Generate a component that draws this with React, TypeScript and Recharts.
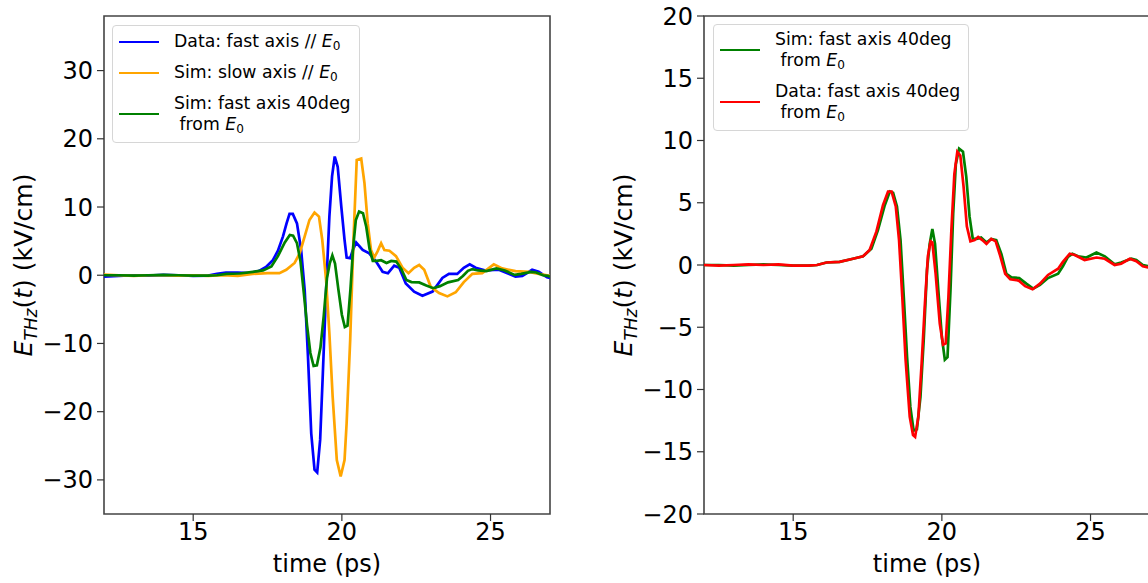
import React from 'react';
import { LineChart, Line, XAxis, YAxis, ReferenceArea } from 'recharts';

// time (ps) / field (kV/cm) samples
const dataFastTime = [12, 12.5, 13, 13.5, 14, 14.5, 15, 15.5, 15.8, 16.1, 16.5, 16.9, 17.2, 17.45, 17.68, 17.85, 18.02, 18.14, 18.24, 18.35, 18.49, 18.63, 18.75, 18.86, 18.97, 19.08, 19.17, 19.27, 19.36, 19.47, 19.58, 19.67, 19.76, 19.86, 19.98, 20.09, 20.16, 20.28, 20.37, 20.48, 20.7, 20.92, 21.15, 21.37, 21.55, 21.76, 21.93, 22.15, 22.43, 22.71, 23.05, 23.38, 23.6, 23.88, 24.1, 24.3, 24.5, 24.83, 25.28, 25.61, 25.84, 26.07, 26.4, 26.62, 26.9, 27];
const dataFastField = [-0.2, -0.1, 0, -0.05, 0.05, 0, -0.1, -0.05, 0.2, 0.4, 0.4, 0.3, 0.6, 1.2, 2.2, 3.6, 5.7, 7.6, 9.0, 9.0, 7.6, 3.7, -2.2, -11.9, -23.2, -28.5, -28.9, -24.1, -14.4, -2.2, 8.6, 14.5, 17.4, 15.9, 10.1, 5.2, 2.6, 2.5, 3.7, 4.8, 3.7, 3.2, 2.0, 0.5, 0.3, 1.4, 1.1, -1.2, -2.4, -3.0, -2.4, -0.4, 0.2, 0.2, 1.1, 1.6, 1.1, 0.7, 0.8, 0.2, -0.2, -0.1, 0.8, 0.5, -0.3, -0.4];

const simSlowTime = [12, 12.5, 13, 13.5, 14, 14.5, 15, 15.5, 16, 16.5, 17, 17.5, 17.9, 18.13, 18.41, 18.58, 18.75, 18.91, 19.08, 19.23, 19.34, 19.47, 19.58, 19.69, 19.83, 19.96, 20.09, 20.16, 20.28, 20.39, 20.5, 20.65, 20.76, 20.87, 20.98, 21.09, 21.2, 21.32, 21.43, 21.6, 21.82, 22.04, 22.24, 22.43, 22.6, 22.77, 22.99, 23.27, 23.55, 23.83, 24.1, 24.39, 24.72, 25.11, 25.39, 25.84, 26.29, 26.62, 26.9, 27];
const simSlowField = [0.1, 0, -0.1, 0, 0, -0.05, 0, -0.1, 0, -0.1, 0.2, 0.3, 0.3, 0.8, 1.8, 3.2, 5.7, 8.1, 9.2, 8.6, 5.2, -0.7, -8.5, -17.8, -27.1, -29.5, -27.1, -21.7, -9.5, 5.2, 16.9, 17.1, 13.5, 7.6, 3.7, 2.6, 3.5, 4.7, 3.7, 3.6, 2.8, 1.1, 0.3, 1.1, 1.5, 0.8, -1.7, -2.6, -3.1, -2.5, -1.0, 0.2, 0.3, 1.6, 1.0, 0.6, 0.5, 0.2, 0, -0.1];

const sim40Time = [12, 12.5, 13, 13.5, 14, 14.5, 15, 15.5, 15.8, 16.12, 16.56, 17.01, 17.35, 17.63, 17.85, 18.08, 18.25, 18.36, 18.49, 18.61, 18.72, 18.83, 18.94, 19.05, 19.16, 19.28, 19.39, 19.5, 19.59, 19.68, 19.77, 19.88, 20.0, 20.1, 20.19, 20.29, 20.38, 20.47, 20.58, 20.71, 20.82, 20.93, 21.04, 21.17, 21.32, 21.5, 21.66, 21.83, 22.0, 22.17, 22.34, 22.6, 22.84, 23.07, 23.3, 23.57, 23.91, 24.07, 24.24, 24.39, 24.58, 24.86, 25.2, 25.48, 25.81, 26.03, 26.37, 26.54, 26.76, 26.93, 27];
const sim40Field = [0, 0, -0.05, 0, 0.05, 0, -0.05, -0.05, 0, 0.2, 0.25, 0.5, 0.7, 1.3, 2.8, 4.8, 5.9, 5.8, 4.7, 2.0, -2.6, -7.4, -11.4, -13.3, -13.2, -10.6, -6.0, -0.4, 1.7, 2.9, 1.7, -2.0, -5.8, -7.6, -7.4, -2.0, 4.1, 8.1, 9.35, 9.1, 7.1, 3.9, 2.1, 2.1, 2.2, 1.8, 2.1, 2.0, 0.9, -0.7, -1.0, -1.05, -1.5, -1.9, -1.6, -1.05, -0.7, -0.1, 0.65, 0.9, 0.7, 0.6, 1.0, 0.7, 0.05, 0.2, 0.5, 0.4, 0, -0.1, -0.2];

const data40Time = [12, 12.5, 13, 13.5, 14, 14.5, 15, 15.5, 15.8, 16.12, 16.56, 17.01, 17.35, 17.57, 17.8, 18.02, 18.19, 18.31, 18.45, 18.56, 18.67, 18.78, 18.92, 19.03, 19.1, 19.21, 19.32, 19.43, 19.53, 19.62, 19.68, 19.79, 19.93, 20.04, 20.13, 20.22, 20.32, 20.42, 20.52, 20.62, 20.73, 20.84, 20.96, 21.1, 21.22, 21.36, 21.5, 21.66, 21.81, 21.96, 22.13, 22.3, 22.58, 22.8, 23.05, 23.3, 23.57, 23.91, 24.07, 24.3, 24.47, 24.8, 25.2, 25.48, 25.81, 26.03, 26.32, 26.54, 26.76, 26.93, 27];
const data40Field = [0, -0.05, 0, 0.05, 0, 0.05, -0.05, -0.05, 0, 0.2, 0.25, 0.5, 0.7, 1.2, 2.7, 4.8, 5.9, 5.9, 4.7, 2.0, -2.6, -7.6, -12.2, -13.65, -13.8, -12.2, -7.9, -3.1, 0.7, 1.9, 1.8, -0.7, -4.7, -6.4, -6.3, -2.6, 2.8, 7.3, 9.1, 8.8, 6.3, 3.1, 1.9, 2.0, 2.25, 2.0, 1.7, 2.1, 1.9, 0.75, -0.7, -1.15, -1.25, -1.7, -1.95, -1.5, -0.8, -0.3, 0.25, 0.9, 0.8, 0.4, 0.6, 0.5, 0, 0.1, 0.5, 0.3, -0.1, -0.2, -0.2];

const xTicks = [15, 20, 25];
const leftYTicks = [-30, -20, -10, 0, 10, 20, 30];
const rightYTicks = [-20, -15, -10, -5, 0, 5, 10, 15, 20];

const zip = (t: number[], v: number[]) => t.map((x, i) => ({ t: x, v: v[i] }));

const FONT = 'DejaVu Sans';
const fmt = (v: number) => (v < 0 ? `\u2212${Math.abs(v)}` : `${v}`);

const YLabel = (props: any) => {
  const vb = props.viewBox || { x: 0, y: 16, width: 104, height: 498 };
  const cx = vb.x + 32;
  const cy = vb.y + vb.height / 2;
  return (
    <text x={cx} y={cy} transform={`rotate(-90 ${cx} ${cy})`} textAnchor="middle" fontFamily={FONT} fontSize={25} fill="#000">
      <tspan fontStyle="italic">E</tspan>
      <tspan fontStyle="italic" fontSize={17} dy={5}>THz</tspan>
      <tspan dy={-5}>(</tspan>
      <tspan fontStyle="italic">t</tspan>
      <tspan>) (kV/cm)</tspan>
    </text>
  );
};

const XLabel = (props: any) => {
  const vb = props.viewBox || { x: 104, y: 514, width: 446, height: 69 };
  return (
    <text x={vb.x + vb.width / 2} y={vb.y + 58} textAnchor="middle" fontFamily={FONT} fontSize={24} fill="#000">
      time (ps)
    </text>
  );
};

const E0 = () => (
  <>
    <i>E</i>
    <sub style={{ fontSize: '0.7em', verticalAlign: '-0.25em', lineHeight: 0 }}>0</sub>
  </>
);

type Item = { color: string; label: React.ReactNode };

const LegendBox = ({ items, left, top, gap, padTop }: { items: Item[]; left: number; top: number; gap: number; padTop: number }) => (
  <div
    style={{
      position: 'absolute',
      left,
      top,
      border: '1px solid #d6d6d6',
      borderRadius: 4,
      background: 'rgba(255,255,255,0.85)',
      padding: `${padTop}px 8px 7px 6px`,
      fontFamily: FONT,
      fontSize: 17.3,
      lineHeight: '21px',
      color: '#000',
    }}
  >
    {items.map((it, i) => (
      <div key={i} style={{ display: 'flex', alignItems: 'center', marginTop: i ? gap : 0 }}>
        <div style={{ width: 40, borderTop: `2.5px solid ${it.color}`, marginRight: 15 }} />
        <div style={{ whiteSpace: 'pre' }}>{it.label}</div>
      </div>
    ))}
  </div>
);

const Panel = ({ yDomain, yTicks, children }: { yDomain: [number, number]; yTicks: number[]; children: React.ReactNode }) => (
  <LineChart width={600} height={583} margin={{ top: 16, right: 50, bottom: 0, left: 0 }}>
    <XAxis
      type="number"
      dataKey="t"
      domain={[12, 27]}
      ticks={xTicks}
      allowDataOverflow
      height={69}
      axisLine={false}
      tickSize={7}
      tickMargin={2}
      tickLine={{ stroke: '#333', strokeWidth: 1.2 }}
      tick={{ fill: '#000', fontSize: 24, fontFamily: FONT }}
      label={{ content: XLabel }}
    />
    <YAxis
      type="number"
      domain={yDomain}
      ticks={yTicks}
      allowDataOverflow
      width={104}
      axisLine={false}
      tickSize={7}
      tickMargin={4}
      tickLine={{ stroke: '#333', strokeWidth: 1.2 }}
      tick={{ fill: '#000', fontSize: 24, fontFamily: FONT }}
      tickFormatter={fmt}
      label={{ content: YLabel }}
    />
    {children}
    <ReferenceArea x1={12} x2={27} y1={yDomain[0]} y2={yDomain[1]} fill="none" stroke="#444" strokeWidth={1.6} ifOverflow="visible" />
  </LineChart>
);

const line = (data: { t: number; v: number }[], color: string, name: string) => (
  <Line
    key={name}
    name={name}
    data={data}
    dataKey="v"
    type="linear"
    stroke={color}
    strokeWidth={2.7}
    dot={false}
    activeDot={false}
    isAnimationActive={false}
  />
);

export default function App() {
  const fast = zip(dataFastTime, dataFastField);
  const slow = zip(simSlowTime, simSlowField);
  const sim40 = zip(sim40Time, sim40Field);
  const data40 = zip(data40Time, data40Field);

  return (
    <div style={{ position: 'absolute', left: 0, top: 0, width: 1148, height: 583, overflow: 'hidden', background: '#fff' }}>
      <div style={{ position: 'absolute', left: 0, top: 0 }}>
        <Panel yDomain={[-35, 38]} yTicks={leftYTicks}>
          {line(fast, '#0000ff', 'Data: fast axis // E0')}
          {line(slow, '#ffa500', 'Sim: slow axis // E0')}
          {line(sim40, '#008000', 'Sim: fast axis 40deg from E0')}
        </Panel>
      </div>
      <div style={{ position: 'absolute', left: 600, top: 0 }}>
        <Panel yDomain={[-20, 20]} yTicks={rightYTicks}>
          {line(sim40, '#008000', 'Sim: fast axis 40deg from E0')}
          {line(data40, '#ff0000', 'Data: fast axis 40deg from E0')}
        </Panel>
      </div>
      <LegendBox
        left={112}
        top={25}
        gap={10}
        padTop={5}
        items={[
          { color: '#0000ff', label: <>Data: fast axis // <E0 /></> },
          { color: '#ffa500', label: <>Sim: slow axis // <E0 /></> },
          { color: '#008000', label: <>Sim: fast axis 40deg{'\n'} from <E0 /></> },
        ]}
      />
      <LegendBox
        left={713}
        top={24}
        gap={10}
        padTop={4}
        items={[
          { color: '#008000', label: <>Sim: fast axis 40deg{'\n'} from <E0 /></> },
          { color: '#ff0000', label: <>Data: fast axis 40deg{'\n'} from <E0 /></> },
        ]}
      />
    </div>
  );
}
